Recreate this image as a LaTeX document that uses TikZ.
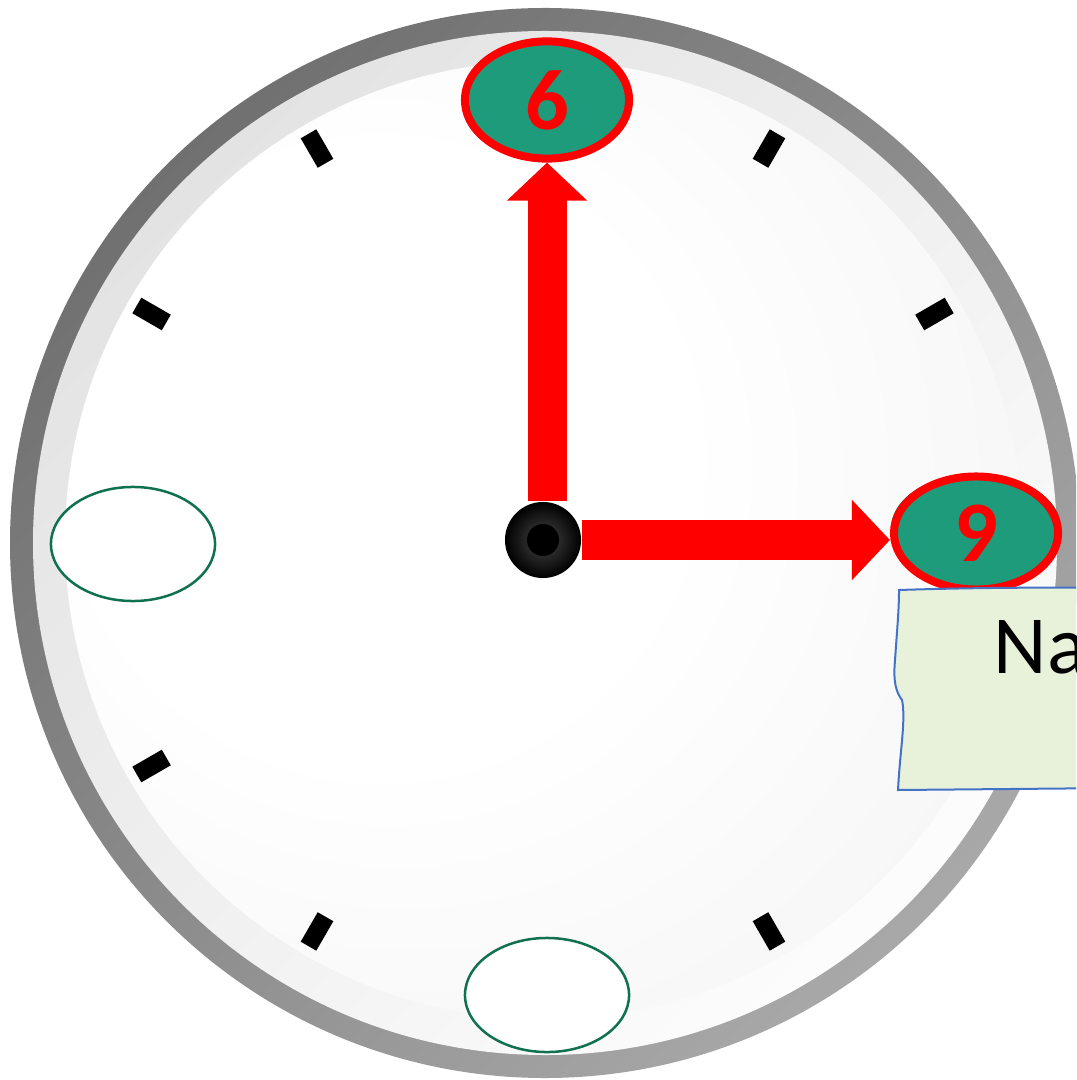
\documentclass[tikz,border=0pt]{standalone}
\usepackage{fontspec}
\setmainfont{Carlito}[Numbers=Lining]
\usepackage{tikz}
\usetikzlibrary{calc,arrows.meta,shapes.geometric}
\definecolor{dialgreen}{RGB}{30, 155, 122}
\definecolor{dialshadow}{RGB}{22, 118, 90}
\definecolor{rimgreen}{RGB}{16, 112, 82}
\definecolor{handred}{RGB}{255, 0, 0}
\definecolor{notefill}{RGB}{232, 242, 219}
\definecolor{noteline}{RGB}{68, 114, 196}
\pgfdeclareradialshading{dialface}{\pgfpoint{-12bp}{6bp}}{%
  color(0bp)=(white); color(16bp)=(white); color(36bp)=(black!4); color(58bp)=(black!8)}

\begin{document}
\begin{tikzpicture}[x=0.01cm, y=-0.01cm, >=Stealth,
    hour/.style={ellipse, draw=handred, line width=0.08cm, fill=dialgreen,
      minimum width=1.64cm, minimum height=1.08cm, text=handred,
      font=\fontsize{24.5}{26}\selectfont\bfseries},
    blank/.style={ellipse, draw=rimgreen, line width=0.025cm, fill=white,
      minimum width=1.64cm, minimum height=1.14cm},
    tickmark/.style={rectangle, fill=black, inner sep=0pt,
      minimum width=0.34cm, minimum height=0.18cm},
    hand/.style={handred, line width=0.39cm,
      -{Triangle[length=0.38cm, width=0.78cm]}}]
  \useasboundingbox (0,0) rectangle (1076,1080);
  \clip (0,0) rectangle (1076,1080);
  \fill[white] (0,0) rectangle (1076,1080);

  % Clock rim and face
  \shade[top color=black!56, bottom color=black!34, shading angle=45] (545,543) circle (535);
  \shade[top color=black!11, bottom color=black!1, shading angle=45] (545,543) circle (512);
  \shade[shading=dialface] (544,540) circle (479);
  \coordinate (centre) at (543,540);

  % Minute ticks
  \foreach \a in {30,60,120,150,210,240,300,330}
    \node[tickmark, rotate=-\a] (tick\a) at ($(centre)+(\a:452)$) {};

  % Number slots
  \node[blank] (leftslot) at (133,544) {};
  \node[blank] (bottomslot) at (547,995) {};
  \fill[dialshadow] (547,104) ellipse (85 and 56);
  \node[hour] (six) at (547,100) {\raisebox{-0.05cm}{6}};
  \fill[dialshadow] (976,528) ellipse (85 and 54);
  \node[hour, minimum height=1.0cm] (nine) at (976,533) {9};

  % Hands
  \node[circle, minimum size=0.76cm, inner sep=0pt, inner color=black!72, outer color=black] (hub) at (centre) {};
  \fill[black] (hub) circle (16);
  \draw[hand] (hub.north -| six.south) -- (six.south);
  \draw[hand] (hub.east) -- (hub.east -| nine.west);

  % Note
  \draw[noteline, fill=notefill, line width=0.02cm]
    (899,590) .. controls (960,588) and (1040,587) .. (1120,588) -- (1120,788) -- (898,790)
    .. controls (900,750) and (906,720) .. (902,700)
    .. controls (896,692) and (893,682) .. (895,660)
    .. controls (897,630) and (899,610) .. cycle;
  \node[anchor=base west, inner sep=0pt, font=\fontsize{23.5}{26}\selectfont] (notetext) at (993,673) {Na};
\end{tikzpicture}
\end{document}
